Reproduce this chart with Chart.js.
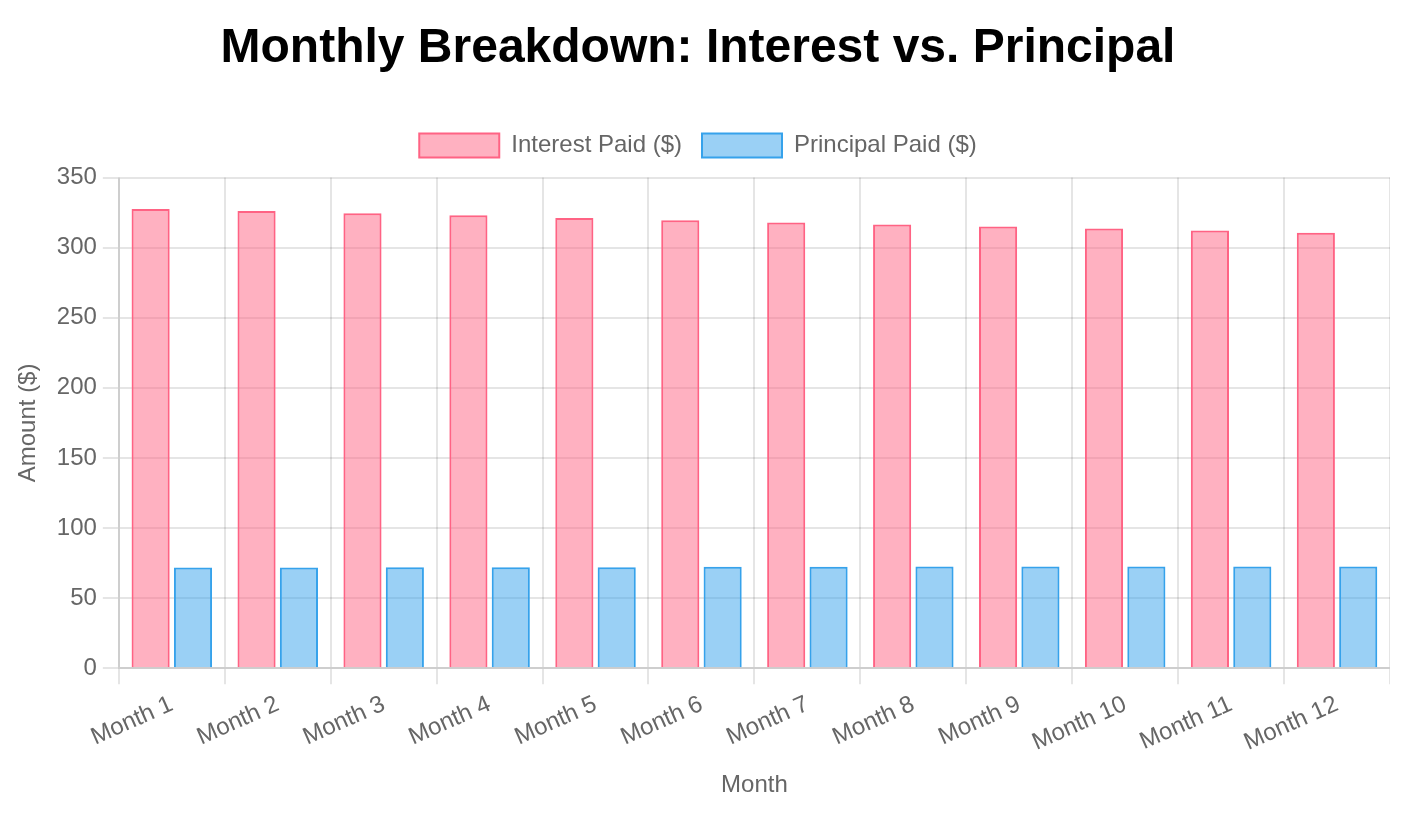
<!DOCTYPE html>
<html>
<head>
<meta charset="utf-8">
<script src="https://cdn.jsdelivr.net/npm/chart.js@4.4.0/dist/chart.umd.min.js"></script>
<style>
  html, body { margin: 0; padding: 0; background: #fff; overflow: hidden; }
  #wrap { position: absolute; left: 6px; top: 0; width: 692px; height: 404px;
          transform: scale(2); transform-origin: 0 0; }
</style>
</head>
<body>
<div id="wrap"><canvas id="c"></canvas></div>
<script>
const months = ["Month 1","Month 2","Month 3","Month 4","Month 5","Month 6","Month 7","Month 8","Month 9","Month 10","Month 11","Month 12"];
const interestPaid = [327.6, 326.1, 324.5, 323.2, 321.2, 319.6, 318.0, 316.6, 315.1, 313.6, 312.2, 310.6];
const principalPaid = [71.9, 71.9, 72.0, 72.0, 72.0, 72.3, 72.3, 72.5, 72.5, 72.5, 72.6, 72.6];

const FONT = "'Liberation Sans', Arial, Helvetica, sans-serif";
Chart.defaults.font.family = FONT;
Chart.defaults.font.size = 12;
Chart.defaults.color = '#666';

new Chart(document.getElementById('c'), {
  type: 'bar',
  data: {
    labels: months,
    datasets: [
      {
        label: 'Interest Paid ($)',
        data: interestPaid,
        backgroundColor: 'rgba(255, 99, 132, 0.5)',
        borderColor: 'rgb(255, 99, 132)',
        borderWidth: 1
      },
      {
        label: 'Principal Paid ($)',
        data: principalPaid,
        backgroundColor: 'rgba(54, 162, 235, 0.5)',
        borderColor: 'rgb(54, 162, 235)',
        borderWidth: 1
      }
    ]
  },
  options: {
    responsive: true,
    maintainAspectRatio: false,
    devicePixelRatio: 2,
    animation: false,
    plugins: {
      title: {
        display: true,
        text: 'Monthly Breakdown: Interest vs. Principal',
        color: '#000',
        font: { size: 24, weight: 'bold', family: FONT },
        padding: { top: 10, bottom: 18 }
      },
      legend: {
        position: 'top'
      },
      tooltip: { enabled: false }
    },
    scales: {
      x: {
        title: { display: true, text: 'Month' },
        ticks: { minRotation: 24, maxRotation: 24 }
      },
      y: {
        beginAtZero: true,
        title: { display: true, text: 'Amount ($)' }
      }
    }
  }
});
</script>
</body>
</html>
